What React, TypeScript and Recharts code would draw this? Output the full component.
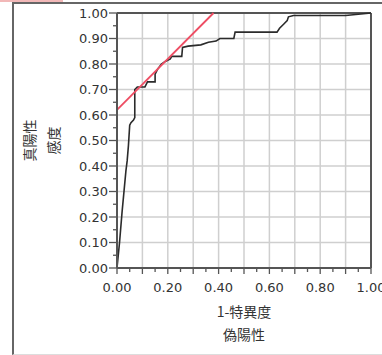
import { CartesianGrid, Line, LineChart, ReferenceLine, XAxis, YAxis } from "recharts";

// ROC curve (1 - specificity, sensitivity)
const rocFpr = [
  0, 0.01, 0.02, 0.035, 0.04, 0.045, 0.05, 0.055, 0.065, 0.07, 0.07, 0.08, 0.11, 0.115, 0.12,
  0.15, 0.15, 0.16, 0.175, 0.19, 0.21, 0.215, 0.255, 0.258, 0.28, 0.33, 0.36, 0.39, 0.405,
  0.46, 0.465, 0.63, 0.64, 0.655, 0.67, 0.675, 0.695, 0.9, 0.95, 1,
];
const rocTpr = [
  0, 0.1, 0.22, 0.38, 0.42, 0.48, 0.56, 0.57, 0.58, 0.59, 0.7, 0.71, 0.71, 0.72, 0.73,
  0.73, 0.76, 0.78, 0.8, 0.81, 0.82, 0.83, 0.83, 0.865, 0.87, 0.875, 0.885, 0.89, 0.9,
  0.9, 0.925, 0.925, 0.94, 0.955, 0.97, 0.985, 0.99, 0.99, 0.995, 1,
];

// tangent line with slope 1
const cutFpr = [0, 0.38];
const cutTpr = [0.62, 1.0];

const axisTicks = [
  0, 0.05, 0.1, 0.15, 0.2, 0.25, 0.3, 0.35, 0.4, 0.45, 0.5,
  0.55, 0.6, 0.65, 0.7, 0.75, 0.8, 0.85, 0.9, 0.95, 1,
];
const xTickLabels = ["0.00", "0.20", "0.40", "0.60", "0.80", "1.00"];
const yTickLabels = ["0.00", "0.10", "0.20", "0.30", "0.40", "0.50", "0.60", "0.70", "0.80", "0.90", "1.00"];
const gridValues = [0.1, 0.2, 0.3, 0.4, 0.5, 0.6, 0.7, 0.8, 0.9];

const rocData = rocFpr.map((x, i) => ({ x, y: rocTpr[i] }));
const cutData = cutFpr.map((x, i) => ({ x, y: cutTpr[i] }));

const AXIS = "#555";
const TICK_FONT = "DejaVu Sans, Verdana, sans-serif";
const CJK_FONT = "'Noto Sans CJK JP', sans-serif";

function XTick({ x, y, payload }: any) {
  const v = payload.value;
  const label = v.toFixed(2);
  const major = Math.abs(v * 10 - Math.round(v * 10)) < 1e-6;
  return (
    <g>
      <line x1={x} x2={x} y1={y} y2={y + (major ? 6 : 4)} stroke={AXIS} strokeWidth={1.3} />
      {xTickLabels.includes(label) && (
        <text x={x} y={y + 24} textAnchor="middle" fontSize={13} fontFamily={TICK_FONT} fill="#333">
          {label}
        </text>
      )}
    </g>
  );
}

function YTick({ x, y, payload }: any) {
  const v = payload.value;
  const label = v.toFixed(2);
  const major = yTickLabels.includes(label);
  return (
    <g>
      <line x1={x - (major ? 8 : 4)} x2={x} y1={y} y2={y} stroke={AXIS} strokeWidth={1.3} />
      {major && (
        <text x={x - 9} y={y + 4.5} textAnchor="end" fontSize={13} fontFamily={TICK_FONT} fill="#333">
          {label}
        </text>
      )}
    </g>
  );
}

function XTitle({ viewBox }: any) {
  const cx = viewBox.x + viewBox.width / 2;
  return (
    <g fontFamily={CJK_FONT} fontSize={14} fill="#333">
      <text x={cx} y={viewBox.y + 49} textAnchor="middle">1-特異度</text>
      <text x={cx} y={viewBox.y + 72} textAnchor="middle">偽陽性</text>
    </g>
  );
}

function YTitle({ viewBox }: any) {
  const cy = viewBox.y + viewBox.height / 2;
  return (
    <g fontFamily={CJK_FONT} fontSize={14} fill="#333">
      <text x={29} y={cy} transform={`rotate(-90, 29, ${cy})`} textAnchor="middle" dominantBaseline="central">
        真陽性
      </text>
      <text x={53} y={cy} transform={`rotate(-90, 53, ${cy})`} textAnchor="middle" dominantBaseline="central">
        感度
      </text>
    </g>
  );
}

export default function App() {
  return (
    <div style={{ position: "fixed", left: 0, top: 0, width: 382, height: 355, background: "#fff", overflow: "hidden" }}>
      <div style={{ position: "absolute", left: 0, top: 0, width: 63, height: 2, background: "#f2b8b8" }} />
      <div
        style={{
          position: "absolute",
          left: 12,
          top: 2,
          width: 400,
          height: 350,
          borderLeft: "2px solid #666",
          borderTop: "2px solid #666",
          borderBottom: "1px solid #ddd",
        }}
      />
      <div style={{ position: "absolute", left: 0, top: 0 }}>
        <LineChart width={382} height={355} margin={{ top: 13, right: 11, left: 0, bottom: 0 }}>
          <CartesianGrid
            stroke="#cfcfcf"
            strokeWidth={1.5}
            horizontalValues={gridValues}
            verticalValues={gridValues}
          />
          <XAxis
            type="number"
            dataKey="x"
            domain={[0, 1]}
            ticks={axisTicks}
            interval={0}
            height={87}
            tickSize={0}
            tickMargin={0}
            tickLine={false}
            axisLine={{ stroke: AXIS, strokeWidth: 2 }}
            tick={<XTick />}
            label={<XTitle />}
          />
          <YAxis
            type="number"
            dataKey="y"
            domain={[0, 1]}
            ticks={axisTicks}
            interval={0}
            width={117}
            tickSize={0}
            tickMargin={0}
            tickLine={false}
            axisLine={{ stroke: AXIS, strokeWidth: 2 }}
            tick={<YTick />}
            label={<YTitle />}
          />
          <ReferenceLine y={1} stroke={AXIS} strokeWidth={2} />
          <ReferenceLine x={1} stroke={AXIS} strokeWidth={2} />
          <Line
            data={rocData}
            dataKey="y"
            type="linear"
            stroke="#2b2b2b"
            strokeWidth={1.6}
            dot={false}
            isAnimationActive={false}
          />
          <Line
            data={cutData}
            dataKey="y"
            type="linear"
            stroke="#ee4d63"
            strokeWidth={1.8}
            dot={false}
            isAnimationActive={false}
          />
        </LineChart>
      </div>
    </div>
  );
}
